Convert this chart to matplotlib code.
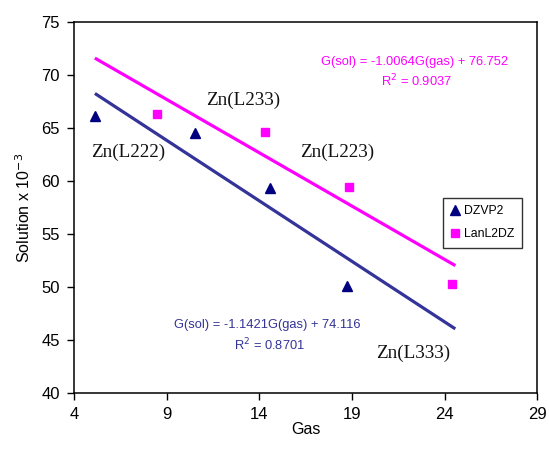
import numpy as np
import matplotlib.pyplot as plt

plt.rcParams["font.family"] = ["Liberation Sans", "DejaVu Sans"]

# data
dzvp2_gas = [5.13, 10.55, 14.58, 18.73]
dzvp2_sol = [66.1, 64.55, 59.35, 50.1]
lanl2dz_gas = [8.47, 14.3, 18.82, 24.37]
lanl2dz_sol = [66.3, 64.65, 59.4, 50.25]

# trend lines as printed on the chart
dzvp2_fit = (-1.1421, 74.116, 0.8701)
lanl2dz_fit = (-1.0064, 76.752, 0.9037)
fit_range = [5.2, 24.5]

complex_labels = ["Zn(L222)", "Zn(L233)", "Zn(L223)", "Zn(L333)"]
label_pos = [(6.9, 62.75), (13.15, 67.6), (18.2, 62.7), (22.3, 43.7)]

BLUE_LINE = "#333399"
BLUE_MARK = "#000080"
MAGENTA = "#FF00FF"

fig = plt.figure(figsize=(5.49, 4.65), dpi=100)
ax = fig.add_axes([0.1348, 0.1548, 0.8440, 0.7979])

xs = np.array(fit_range)
ax.plot(xs, dzvp2_fit[0] * xs + dzvp2_fit[1], color=BLUE_LINE, lw=2.3, zorder=2)
ax.plot(xs, lanl2dz_fit[0] * xs + lanl2dz_fit[1], color=MAGENTA, lw=2.3, zorder=2)

ax.plot(dzvp2_gas, dzvp2_sol, "^", color=BLUE_MARK, ms=7.5, ls="none",
        label="DZVP2", zorder=3)
ax.plot(lanl2dz_gas, lanl2dz_sol, "s", color=MAGENTA, ms=6, ls="none",
        label="LanL2DZ", zorder=3)

for txt, (x, y) in zip(complex_labels, label_pos):
    ax.text(x, y, txt, family="Liberation Serif", fontsize=13.8, ha="center",
            va="center", color="#111111")

ax.text(22.4, 71.25, "G(sol) = -1.0064G(gas) + 76.752", color=MAGENTA,
        fontsize=9.3, ha="center", va="center")
ax.text(22.5, 69.4, "R$^2$ = 0.9037", color=MAGENTA,
        fontsize=9.3, ha="center", va="center")
ax.text(14.4, 46.4, "G(sol) = -1.1421G(gas) + 74.116", color=BLUE_LINE,
        fontsize=9.3, ha="center", va="center")
ax.text(14.55, 44.55, "R$^2$ = 0.8701", color=BLUE_LINE,
        fontsize=9.3, ha="center", va="center")

ax.set_xlim(4, 29)
ax.set_ylim(40, 75)
ax.set_xticks(range(4, 30, 5))
ax.set_yticks(range(40, 76, 5))
ax.tick_params(labelsize=12, length=5, width=1, direction="out", pad=5)
for s in ax.spines.values():
    s.set_linewidth(1.1)

ax.set_xlabel("Gas", fontsize=11.5, labelpad=0)
ax.set_ylabel("Solution x 10$^{-3}$", fontsize=11.5, labelpad=6)

leg = ax.legend(loc="upper left", bbox_to_anchor=(0.797, 0.526), fontsize=8.8,
                frameon=True, fancybox=False, edgecolor="black",
                handlelength=0.7, handletextpad=0.4, borderpad=0.6,
                labelspacing=0.9, borderaxespad=0)
leg.get_frame().set_linewidth(1)

fig.savefig("out.png", dpi=100)
